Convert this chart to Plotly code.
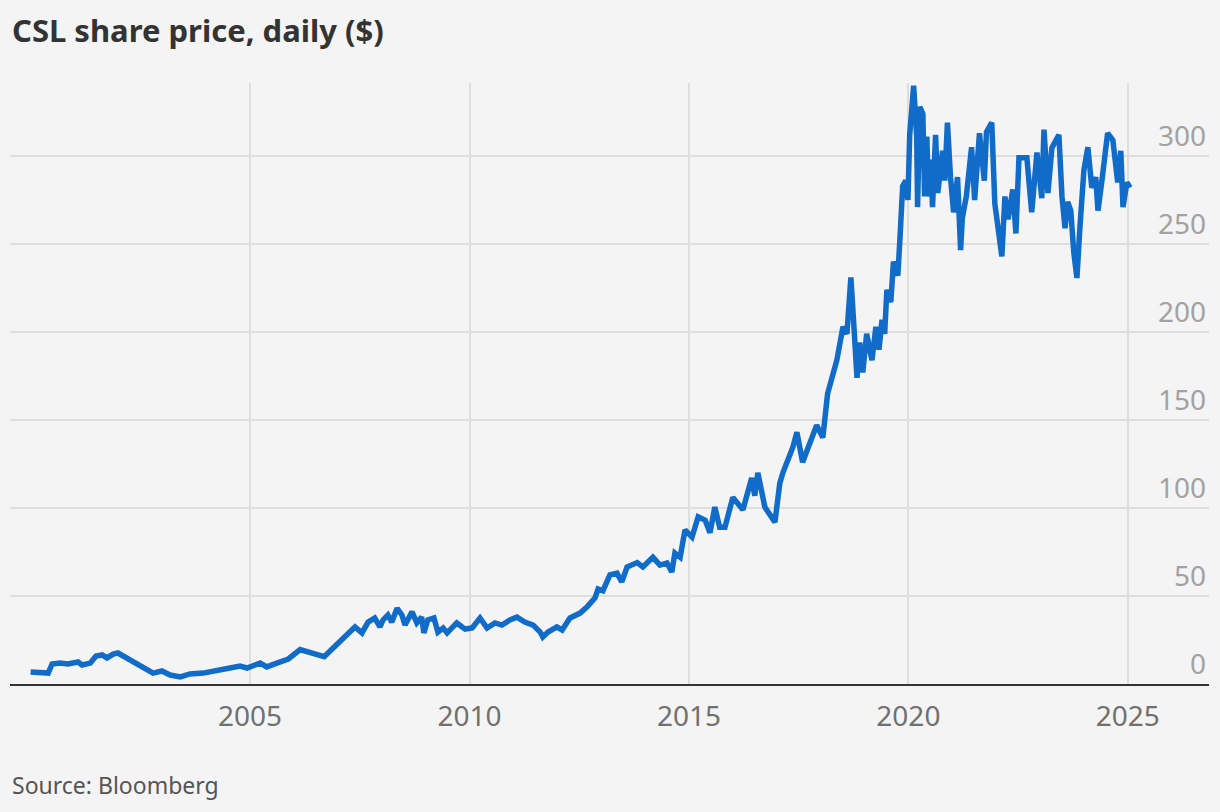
import plotly.graph_objects as go

# CSL share price (decimal year, $)
years = [
    2000.00, 2000.22, 2000.40, 2000.49, 2000.67, 2000.85, 2001.08, 2001.17, 2001.36, 2001.49,
    2001.63, 2001.74, 2001.88, 2001.99, 2002.15, 2002.33, 2002.56, 2002.79, 2002.99, 2003.18,
    2003.41, 2003.63, 2003.93, 2004.25, 2004.54, 2004.77, 2004.93, 2005.23, 2005.38, 2005.61,
    2005.87, 2006.14, 2006.41, 2006.69, 2006.87, 2007.05, 2007.21, 2007.39, 2007.55, 2007.69,
    2007.84, 2007.96, 2008.03, 2008.14, 2008.23, 2008.35, 2008.46, 2008.53, 2008.69, 2008.80,
    2008.91, 2008.96, 2009.05, 2009.19, 2009.28, 2009.40, 2009.49, 2009.71, 2009.90, 2010.06,
    2010.24, 2010.40, 2010.58, 2010.74, 2010.92, 2011.08, 2011.26, 2011.45, 2011.61, 2011.67,
    2011.79, 2011.99, 2012.11, 2012.29, 2012.52, 2012.68, 2012.86, 2012.93, 2013.04, 2013.20,
    2013.36, 2013.47, 2013.59, 2013.82, 2013.95, 2014.18, 2014.34, 2014.50, 2014.61, 2014.68,
    2014.80, 2014.91, 2015.07, 2015.21, 2015.37, 2015.48, 2015.59, 2015.70, 2015.82, 2016.00,
    2016.23, 2016.43, 2016.50, 2016.57, 2016.73, 2016.96, 2017.07, 2017.14, 2017.37, 2017.46,
    2017.59, 2017.91, 2018.05, 2018.16, 2018.37, 2018.51, 2018.60, 2018.69, 2018.74, 2018.83,
    2018.89, 2018.96, 2019.05, 2019.17, 2019.26, 2019.33, 2019.40, 2019.46, 2019.51, 2019.60,
    2019.66, 2019.76, 2019.81, 2019.87, 2019.94, 2019.99, 2020.03, 2020.12, 2020.19, 2020.21,
    2020.26, 2020.33, 2020.37, 2020.42, 2020.46, 2020.51, 2020.55, 2020.62, 2020.67, 2020.78,
    2020.83, 2020.89, 2020.96, 2021.03, 2021.12, 2021.19, 2021.23, 2021.32, 2021.44, 2021.51,
    2021.62, 2021.73, 2021.78, 2021.90, 2021.97, 2022.08, 2022.13, 2022.20, 2022.27, 2022.38,
    2022.45, 2022.52, 2022.61, 2022.70, 2022.81, 2022.93, 2023.04, 2023.09, 2023.18, 2023.27,
    2023.34, 2023.43, 2023.50, 2023.57, 2023.63, 2023.70, 2023.77, 2023.84, 2023.91, 2024.00,
    2024.09, 2024.18, 2024.27, 2024.32, 2024.41, 2024.54, 2024.66, 2024.77, 2024.84, 2024.89,
    2024.98, 2025.05,
]
prices = [
    6.8, 6.8, 6.2, 11.4, 11.9, 11.4, 12.5, 10.8, 11.9, 15.9,
    16.5, 14.8, 17.0, 17.6, 15.3, 12.5, 9.7, 6.2, 7.4, 5.1,
    4.0, 5.7, 6.2, 7.4, 9.1, 10.2, 9.1, 11.9, 9.7, 11.9,
    14.2, 19.6, 17.6, 15.5, 19.9, 23.9, 27.8, 32.4, 29.0, 35.2,
    37.5, 32.4, 36.4, 39.2, 35.2, 43.0, 39.2, 33.5, 41.0, 34.7,
    38.0, 29.0, 36.4, 37.5, 29.5, 31.8, 29.0, 34.7, 31.2, 31.8,
    37.5, 31.8, 34.7, 33.5, 36.4, 38.0, 35.2, 33.5, 29.5, 26.7,
    29.5, 32.4, 30.7, 37.5, 40.3, 43.8, 48.9, 54.0, 53.0, 62.0,
    63.0, 58.0, 66.5, 69.0, 66.5, 72.0, 67.6, 68.8, 63.6, 74.4,
    72.0, 87.5, 83.5, 95.0, 93.0, 86.0, 100.5, 89.0, 89.0, 106.0,
    99.0, 117.0, 107.0, 120.0, 100.5, 92.0, 114.0, 120.0, 134.7, 143.0,
    126.0, 147.0, 140.0, 165.0, 184.0, 203.0, 199.0, 231.0, 211.0, 174.0,
    194.0, 177.0, 199.0, 184.0, 203.0, 190.0, 207.0, 199.0, 224.0, 217.0,
    240.0, 232.0, 254.0, 283.0, 286.0, 275.0, 312.0, 340.0, 311.0, 271.0,
    328.0, 324.0, 277.0, 311.0, 277.0, 298.0, 271.0, 312.0, 279.0, 303.0,
    286.0, 319.0, 288.0, 268.0, 288.0, 246.6, 265.0, 277.0, 305.0, 275.0,
    313.0, 286.0, 313.6, 319.0, 273.0, 248.0, 243.0, 277.0, 264.0, 281.0,
    256.0, 299.0, 299.0, 299.0, 268.0, 302.0, 276.0, 315.0, 279.0, 304.5,
    308.0, 312.0, 277.0, 259.0, 274.0, 269.0, 245.0, 230.7, 260.0, 292.0,
    305.0, 282.0, 288.0, 269.0, 286.0, 313.0, 309.0, 285.0, 303.0, 271.0,
    285.0, 282.0,
]

x_ticks = [2005, 2010, 2015, 2020, 2025]
y_ticks = [0, 50, 100, 150, 200, 250, 300]

bg = "#f4f4f4"
grid = "#dedede"
font = "Noto Sans"

fig = go.Figure()
fig.add_trace(go.Scatter(
    x=years, y=prices, mode="lines",
    line=dict(color="#106cc8", width=5.5),
    hoverinfo="skip", showlegend=False,
))

fig.update_layout(
    width=1220, height=812,
    paper_bgcolor=bg, plot_bgcolor=bg,
    margin=dict(l=10, r=11, t=83, b=128),
    font=dict(family=font),
    xaxis=dict(
        range=[1999.53, 2026.85],
        tickvals=x_ticks, ticktext=[str(v) for v in x_ticks],
        showgrid=True, gridcolor=grid, gridwidth=2,
        showline=True, linecolor="#333333", linewidth=2,
        ticks="", zeroline=False,
        tickfont=dict(size=28, color="#707070", family=font),
        ticklabelstandoff=6,
    ),
    yaxis=dict(
        range=[0, 341.5], side="right",
        tickvals=y_ticks, ticktext=[str(v) for v in y_ticks],
        showgrid=True, gridcolor=grid, gridwidth=2,
        ticks="", zeroline=False,
        ticklabelposition="inside top",
        tickfont=dict(size=28, color="#a2a2a2", family=font),
    ),
    annotations=[
        dict(text="<b>CSL share price, daily ($)</b>", xref="paper", yref="paper",
             x=0, y=1.088, xanchor="left", yanchor="middle", showarrow=False,
             font=dict(size=31, color="#333333", family=font)),
        dict(text="Source: Bloomberg", xref="paper", yref="paper",
             x=0, y=-0.168, xanchor="left", yanchor="middle", showarrow=False,
             font=dict(size=23, color="#555555", family=font)),
    ],
)

# drop the page's default body margin so the chart fills the window
fig.write_html("out.html", config={"displayModeBar": False},
               post_script="document.body.style.margin='0';")
